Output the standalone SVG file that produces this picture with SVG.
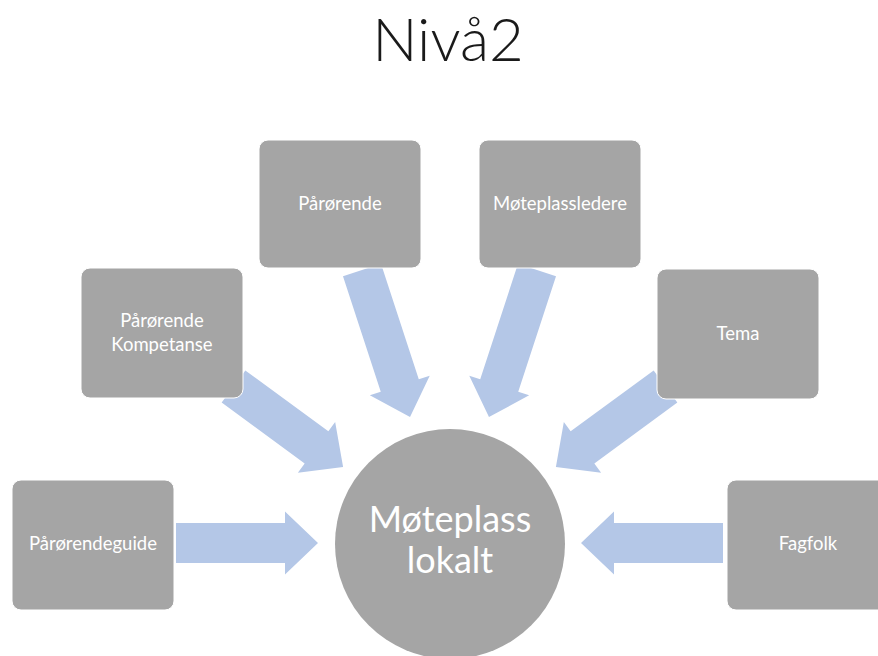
<svg xmlns="http://www.w3.org/2000/svg" width="878" height="656" viewBox="0 0 878 656">
  <style>
    .box { fill: #a5a5a5; stroke: #ffffff; stroke-width: 1; }
    .arrow { fill: #b4c7e7; }
    .lbl { font-family: Lato, "Open Sans", "Liberation Sans", sans-serif; font-size: 18.5px; fill: #ffffff; text-anchor: middle; }
    .hub { font-family: Lato, "Open Sans", "Liberation Sans", sans-serif; font-size: 36px; fill: #ffffff; text-anchor: middle; }
    .title { font-family: Lato, "Open Sans", "Liberation Sans", sans-serif; font-size: 60px; font-weight: 300; fill: #1a1a1a; text-anchor: middle; }
  </style>
  <rect width="878" height="656" fill="#ffffff"/>

  <text class="title" x="448" y="61">Nivå2</text>

  <!-- converging block arrows (local: tail at origin, pointing +x) -->
  <g id="connectors">
    <path class="arrow" transform="translate(176,543)" d="M0,-20 H109 V-31.5 L142,0 L109,31.5 V20 H0 Z"/>
    <path class="arrow" transform="translate(233.5,386.5) rotate(36.3)" d="M0,-20 H103 V-31.5 L136,0 L103,31.5 V20 H0 Z"/>
    <path class="arrow" transform="translate(362,270) rotate(71.9)" d="M0,-20 H121.6 V-31.5 L154.6,0 L121.6,31.5 V20 H0 Z"/>
    <path class="arrow" transform="translate(537,270) rotate(108.1)" d="M0,-20 H121.6 V-31.5 L154.6,0 L121.6,31.5 V20 H0 Z"/>
    <path class="arrow" transform="translate(665.5,386.5) rotate(143.7)" d="M0,-20 H103 V-31.5 L136,0 L103,31.5 V20 H0 Z"/>
    <path class="arrow" transform="translate(723,543) rotate(180)" d="M0,-20 H109 V-31.5 L142,0 L109,31.5 V20 H0 Z"/>
  </g>

  <g id="hub">
    <circle cx="450" cy="544" r="115" fill="#a5a5a5"/>
    <text class="hub" x="450" y="532">Møteplass</text>
    <text class="hub" x="450" y="573">lokalt</text>
  </g>

  <g id="node-parorendeguide">
    <rect class="box" x="12" y="480" width="162" height="130" rx="9"/>
    <text class="lbl" x="93" y="550">Pårørendeguide</text>
  </g>
  <g id="node-kompetanse">
    <rect class="box" x="81" y="268" width="162" height="130" rx="9"/>
    <text class="lbl" x="162" y="327">Pårørende</text>
    <text class="lbl" x="162" y="351">Kompetanse</text>
  </g>
  <g id="node-parorende">
    <rect class="box" x="259" y="140" width="162" height="128" rx="9"/>
    <text class="lbl" x="340" y="210">Pårørende</text>
  </g>
  <g id="node-moteplassledere">
    <rect class="box" x="479" y="140" width="162" height="128" rx="9"/>
    <text class="lbl" x="560" y="210">Møteplassledere</text>
  </g>
  <g id="node-tema">
    <rect class="box" x="657" y="269" width="162" height="130" rx="9"/>
    <text class="lbl" x="738" y="340">Tema</text>
  </g>
  <g id="node-fagfolk">
    <rect class="box" x="727" y="480" width="162" height="130" rx="9"/>
    <text class="lbl" x="808" y="550">Fagfolk</text>
  </g>
</svg>
